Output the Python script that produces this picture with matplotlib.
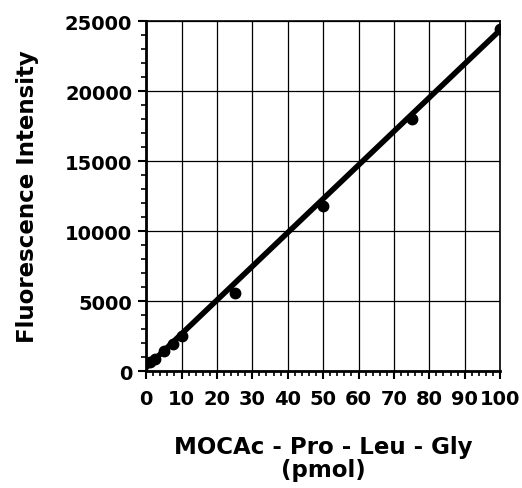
import matplotlib.pyplot as plt
from matplotlib.ticker import MultipleLocator

# standard curve data
pmol = [1, 2.5, 5, 7.5, 10, 25, 50, 75, 100]
intensity = [650, 860, 1430, 1930, 2500, 5600, 11800, 18000, 24400]
fit_x = [0, 100]
fit_y = [250, 24350]

plt.rcParams['font.family'] = 'DejaVu Sans'
plt.rcParams['font.weight'] = 'bold'

fig = plt.figure(figsize=(5.22, 4.89), dpi=100)
ax = fig.add_axes([0.280, 0.239, 0.678, 0.716])

ax.plot(fit_x, fit_y, color='black', lw=4, solid_capstyle='round')
ax.plot(pmol, intensity, 'o', color='black', ms=7.5)

ax.set_xlim(0, 100)
ax.set_ylim(0, 25000)
ax.xaxis.set_major_locator(MultipleLocator(10))
ax.xaxis.set_minor_locator(MultipleLocator(2))
ax.yaxis.set_major_locator(MultipleLocator(5000))
ax.yaxis.set_minor_locator(MultipleLocator(1000))
ax.grid(True, which='major', color='black', lw=0.9)
ax.set_axisbelow(True)

for s in ax.spines.values():
    s.set_linewidth(1.2)
ax.spines['left'].set_linewidth(2)
ax.spines['bottom'].set_linewidth(2)

ax.tick_params(which='major', direction='out', length=6, width=1.5, labelsize=14)
ax.tick_params(axis='x', which='major', pad=7)
ax.tick_params(axis='y', which='major', pad=4)
ax.tick_params(which='minor', direction='out', length=3.5, width=1.2)

ax.set_xlabel('MOCAc - Pro - Leu - Gly\n(pmol)', fontsize=16.5, fontweight='bold', labelpad=19, linespacing=1.05)
ax.set_ylabel('Fluorescence Intensity', fontsize=16.5, fontweight='bold', labelpad=19)

fig.savefig('out.png', dpi=100)
